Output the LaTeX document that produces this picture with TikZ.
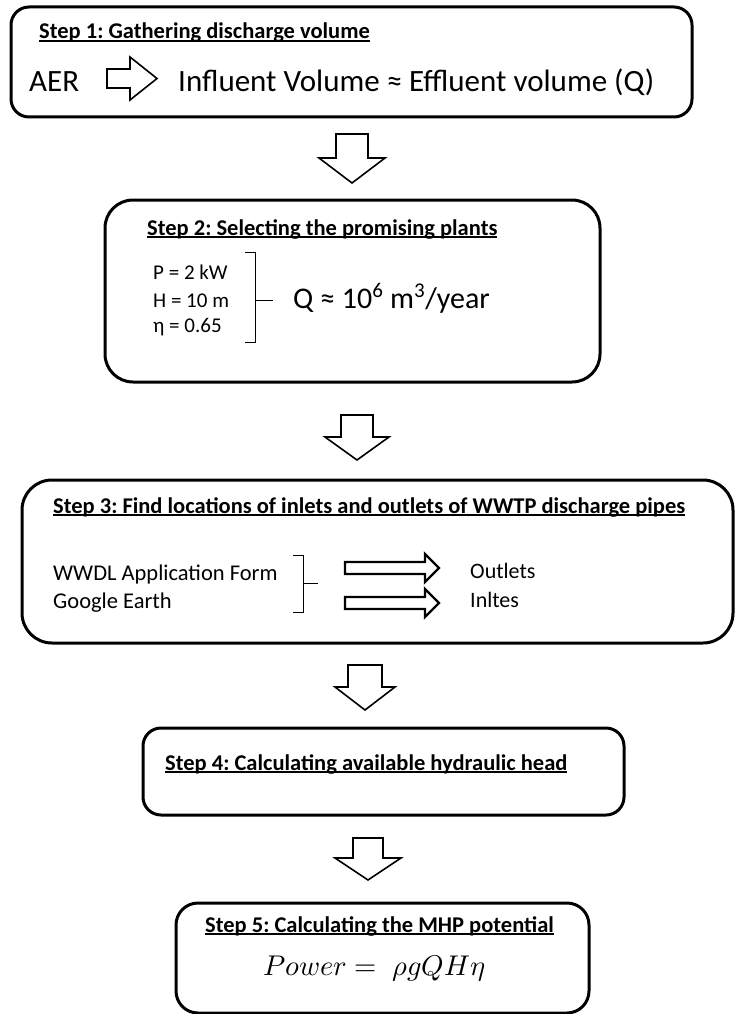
\documentclass[tikz,border=0pt]{standalone}
\usepackage{fontspec}
\usepackage{unicode-math}
\setmainfont{Carlito}
\setmathfont{Latin Modern Math}
\usetikzlibrary{calc}
\frenchspacing
\newcommand\myul[1]{\setbox0\hbox{#1}\rlap{\rule[-2.6pt]{\wd0}{1.2pt}}\box0}
% down block arrow: cx, top, shoulder, tip, shaft half, head half
\newcommand\dnarrow[6]{%
  \draw[blk] (#1-#5,#2) -- (#1+#5,#2) -- (#1+#5,#3) -- (#1+#6,#3) -- (#1,#4)
    -- (#1-#6,#3) -- (#1-#5,#3) -- cycle;}
% right block arrow: left, cy, shoulder, tip, shaft half, head half, style
\newcommand\rtarrow[7]{%
  \draw[#7] (#1,#2-#5) -- (#3,#2-#5) -- (#3,#2-#6) -- (#4,#2) -- (#3,#2+#6)
    -- (#3,#2+#5) -- (#1,#2+#5) -- cycle;}
\begin{document}
\frenchspacing
\begin{tikzpicture}[x=1pt,y=-1pt,
  stepbox/.style={draw, line width=3pt, rounded corners=#1, inner sep=0pt},
  title/.style={anchor=base west, inner sep=0pt, font=\fontsize{22.5}{24}\selectfont\bfseries\frenchspacing},
  txt/.style={anchor=base west, inner sep=0pt},
  blk/.style={draw, line width=1.6pt, fill=white, line join=miter},
  blkthick/.style={draw, line width=2.4pt, fill=white, line join=miter},
  brk/.style={draw, line width=1pt}
]
\useasboundingbox (0,0) rectangle (734,1014);
\fill[white] (0,0) rectangle (734,1014);

% boxes
\node[stepbox=18, minimum width=681pt, minimum height=110pt] (s1) at (351.5,62) {};
\node[stepbox=28, minimum width=495pt, minimum height=182pt] (s2) at (352.5,291) {};
\node[stepbox=30, minimum width=711pt, minimum height=163pt] (s3) at (377.5,561.5) {};
\node[stepbox=18, minimum width=481pt, minimum height=87pt] (s4) at (383.5,771.5) {};
\node[stepbox=22, minimum width=413pt, minimum height=110pt] (s5) at (382.5,958) {};

% down arrows between steps
\dnarrow{352}{134}{158}{183}{16}{33}
\dnarrow{357}{415}{437}{460}{16}{32}
\dnarrow{365}{665}{687}{710}{17}{30}
\dnarrow{368}{838}{858}{880}{15}{33}

% Step 1
\node[title] (t1) at (39,39) {\myul{Step 1: Gathering discharge volume}};
\node[txt, font=\fontsize{31}{33}\selectfont] (aer) at (29,92) {AER};
\rtarrow{107}{78.5}{130}{157}{9.5}{21.5}{blk}
\node[txt, font=\fontsize{31}{33}\selectfont] (infl) at (178,92) {Influent Volume ≈ Effluent volume (Q)};

% Step 2
\node[title] (t2) at (147,235) {\myul{Step 2: Selecting the promising plants}};
\node[txt, font=\fontsize{21}{23}\selectfont] (pp) at (153,279) {P = 2 kW};
\node[txt, font=\fontsize{21}{23}\selectfont] (hh) at (153,307) {H = 10 m};
\node[txt, font=\fontsize{21}{23}\selectfont] (ee) at (153,332) {η = 0.65};
\draw[brk] (245,252) -- (255,252) -- (255,342) -- (245,342);
\draw[brk] (255,300) -- (273,300);
\node[txt, font=\fontsize{30}{32}\selectfont] (qq) at (293,308) {Q ≈ 10\textsuperscript{6} m\textsuperscript{3}/year};

% Step 3
\node[title] (t3) at (53,513) {\myul{Step 3: Find locations of inlets and outlets of WWTP discharge pipes}};
\node[txt, font=\fontsize{22.5}{24}\selectfont] (ww) at (53,580) {WWDL Application Form};
\node[txt, font=\fontsize{22.5}{24}\selectfont] (ge) at (53,608) {Google Earth};
\draw[brk] (293,555) -- (303,555) -- (303,612) -- (293,612);
\draw[brk] (303,583) -- (318,583);
\rtarrow{345}{568}{425}{439}{6}{14}{blkthick}
\rtarrow{345}{603}{425}{439}{6}{14}{blkthick}
\node[txt, font=\fontsize{22}{24}\selectfont] (ou) at (470,578) {Outlets};
\node[txt, font=\fontsize{22}{24}\selectfont] (in) at (470,607) {Inltes};

% Step 4
\node[title] (t4) at (165,770) {\myul{Step 4: Calculating available hydraulic head}};

% Step 5
\node[title] (t5) at (205,932) {\myul{Step 5: Calculating the MHP potential}};
\node[txt, font=\fontsize{28.5}{30}\selectfont] (pw) at (263,975) {$Power =\; \rho g Q H \eta$};
\end{tikzpicture}
\end{document}
